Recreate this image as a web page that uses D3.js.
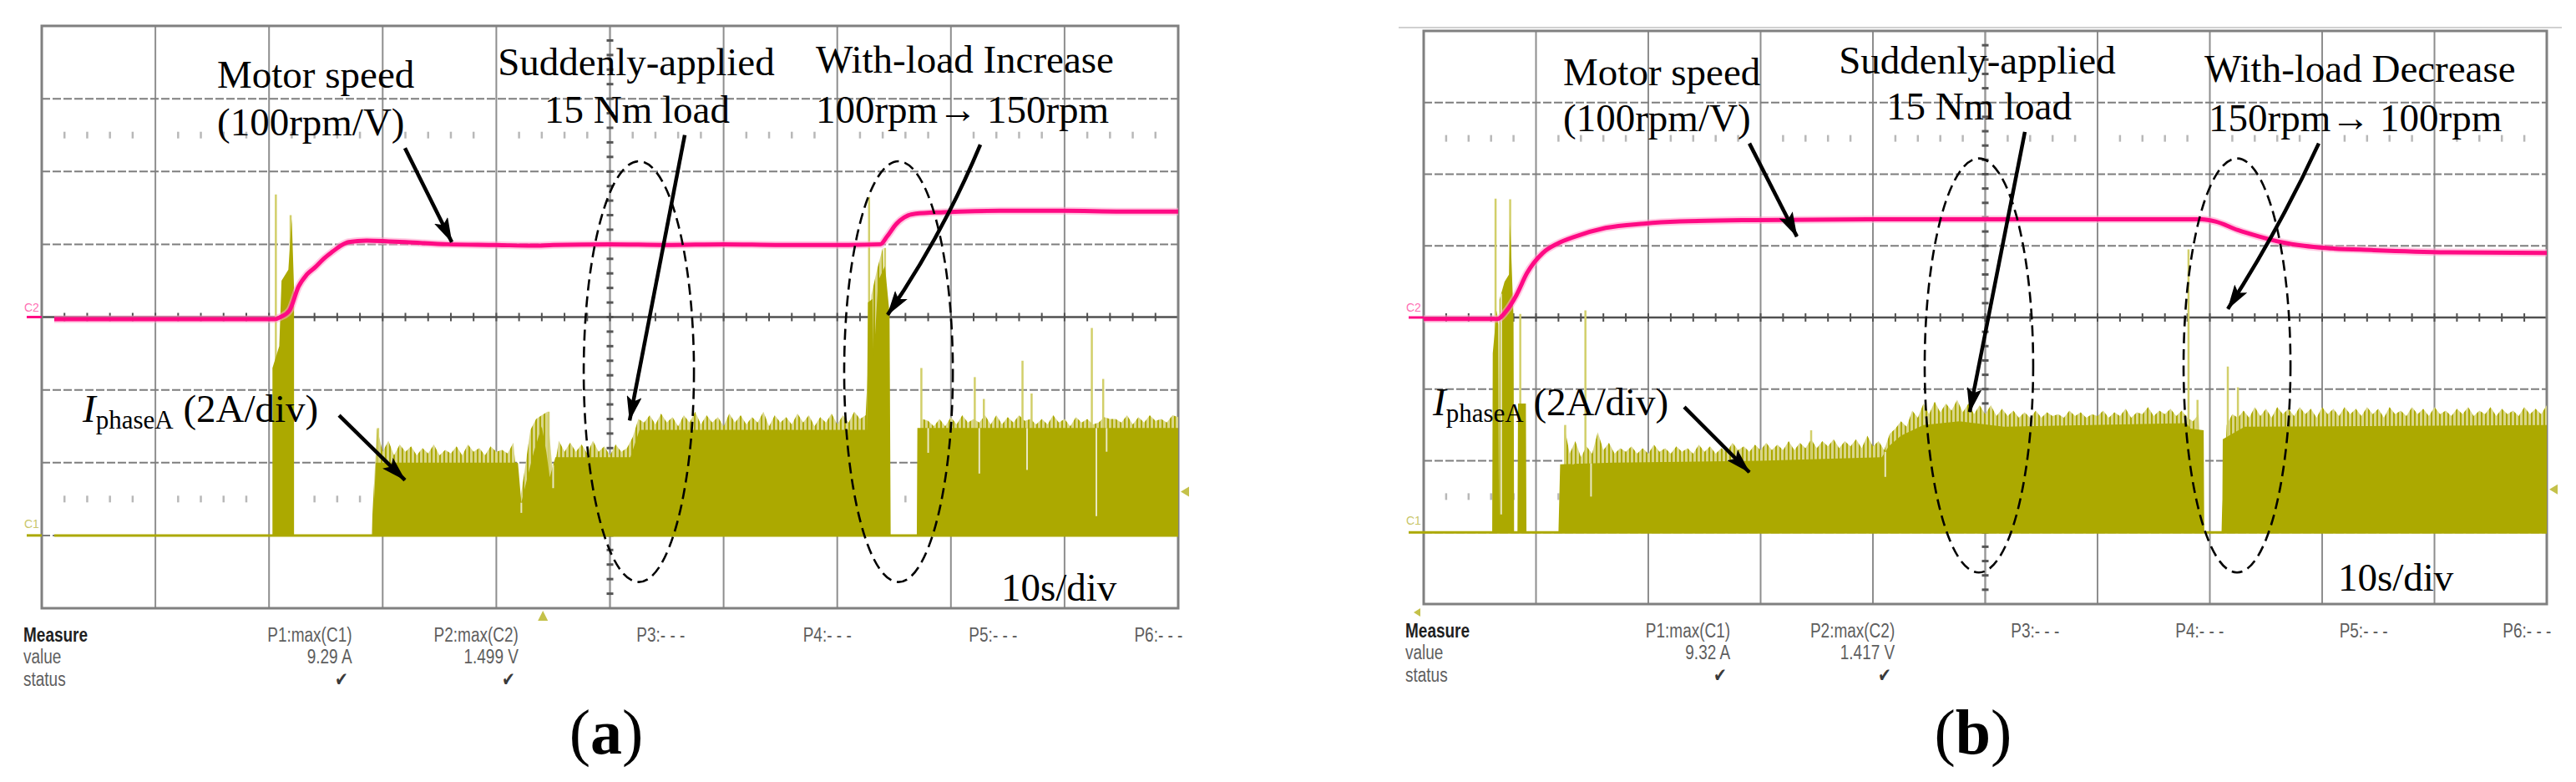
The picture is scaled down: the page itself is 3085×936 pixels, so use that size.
<!DOCTYPE html>
<html lang="en">
<head>
<meta charset="utf-8">
<title>Motor speed and phase current</title>
<style>
  body { margin: 0; background: #fff; }
  svg { display: block; }
  .ann { font-family: "Liberation Serif", "Times New Roman", serif; font-size: 47px; fill: #000; }
  .meas { font-family: "Liberation Sans", Arial, sans-serif; font-size: 19px; fill: #5e5e5e; }
</style>
</head>
<body>
<svg id="chart" width="3085" height="936"></svg>
<script src="https://d3js.org/d3.v7.min.js"></script>
<script>
// scope screen: 10 s/div x 10 div, 8 vertical divisions
const gridTimes = [0, 10, 20, 30, 40, 50, 60, 70, 80, 90, 100];
const gridDivs = [0, 1, 2, 3, 4, 5, 6, 7, 8];

// (a) motor speed (C2, 100 rpm/V, 1 V/div)
const speedTimeA = [1.1, 20.5, 21.0, 21.8, 22.6, 23.3, 24.1, 24.8, 25.6, 26.3, 27.0, 28.6, 30.5, 32.0, 35.7, 40, 43.2, 45, 50, 55, 60, 65, 70, 73.8, 74.4, 75.2, 75.9, 76.9, 79.4, 84.3, 90, 95, 100];
const speedRpmA  = [-3, -3, 0, 9, 42, 58, 69, 80, 90, 98, 103, 105, 104, 103, 100, 99, 98, 99, 100, 99, 100, 99, 99, 100, 111, 128, 137, 142, 144, 146, 146, 145, 145];

// (b) motor speed
const speedTimeB = [0, 6.6, 7.3, 8.25, 9.2, 10.6, 11.9, 13.5, 16.2, 19.6, 22.8, 29.5, 39.5, 50, 60, 69.3, 70.5, 72.5, 74.4, 76.4, 78.4, 80.3, 84.6, 91.2, 100];
const speedRpmB  = [-2, -2, 8, 31, 62, 90, 103, 113, 125, 131, 134, 136, 137, 137, 137, 137, 134, 122, 113, 105, 100, 97, 94, 91, 90];

// (a) phase current envelope (C1, 2 A/div), [time s, A]
const bodyA = [[1.1,0],[20.3,0],[20.3,4.6],[20.9,5.2],[21.1,7.0],[21.7,7.3],[22.0,8.7],[22.2,6.8],[22.2,0],[29.1,0],[29.4,2.0],[41.9,2.0],[42.2,0.9],[42.5,1.3],[43.3,2.3],[44.0,3.0],[44.4,2.3],[44.7,1.6],[45.2,2.15],[51.8,2.15],[52.6,2.9],[72.6,2.9],[72.7,6.4],[73.1,6.5],[73.2,4.8],[73.6,7.0],[74.2,7.4],[74.6,6.1],[74.7,0],[77.0,0],[77.05,2.95],[100,2.95]];
// (a) ripple peaks every 0.5 s from 29 s
const hairStartA = 29.0, hairStepA = 0.5;
const hairAmpA = [
  0, 2.95, 2.3, 2.6, 2.2, 2.5, 2.3, 2.45, 2.2, 2.4,
  2.25, 2.5, 2.2, 2.35, 2.25, 2.45, 2.2, 2.5, 2.3, 2.4,
  2.2, 2.45, 2.3, 2.35, 2.25, 2.55, 0.8, 1.8, 2.9, 3.2,
  3.3, 3.4, 1.6, 2.6, 2.3, 2.55, 2.3, 2.5, 2.25, 2.6,
  2.3, 2.45, 2.2, 2.5, 2.3, 2.4, 2.7, 3.2, 3.1, 3.3,
  3.05, 3.35, 3.1, 3.25, 3.0, 3.3, 3.1, 3.4, 3.05, 3.3,
  3.1, 3.25, 3.0, 3.35, 3.1, 3.3, 3.05, 3.25, 3.1, 3.4,
  3.0, 3.3, 3.1, 3.25, 3.05, 3.35, 3.1, 3.3, 3.0, 3.25,
  3.1, 3.35, 3.05, 3.3, 3.1, 3.4, 3.2, 3.3, 6.6, 7.3,
  7.9, 0, 0, 0, 0, 0, 0, 3.2, 3.15, 3.0,
  3.2, 3.0, 3.25, 3.05, 3.3, 3.1, 3.2, 3.1, 3.3, 3.05,
  3.3, 3.05, 3.25, 3.1, 3.3, 3.15, 3.2, 3.05, 3.2, 3.05,
  3.3, 3.1, 3.2, 3.0, 3.25, 3.1, 3.2, 3.05, 3.1, 3.25,
  3.2, 3.2, 3.1, 3.3, 3.05, 3.25, 3.1, 3.3, 3.15, 3.2,
  3.1, 3.3, 3.25
];
const spikesA = [[20.6,9.37],[21.9,8.8],[29.6,2.95],[44.6,3.4],[72.8,9.3],[74.2,7.9],[77.4,4.6],[82.1,4.35],[82.9,3.75],[86.3,4.8],[87.1,3.9],[92.4,5.7],[93.4,4.3]];
const notchesA = [[42.2,0.62],[45.0,1.3],[78.0,2.27],[82.5,1.7],[86.7,1.8],[92.8,0.53],[93.7,2.3]];

// (b) phase current envelope
const bodyB = [[0,0],[6.1,0],[6.15,5.0],[6.5,6.2],[6.65,5.8],[6.7,0.4],[6.75,6.5],[7.2,7.0],[7.6,7.2],[7.7,8.6],[8.0,6.0],[8.05,0],[8.35,0],[8.4,3.6],[9.1,3.6],[9.15,0],[12.0,0],[12.15,1.9],[16.9,1.95],[30,2.0],[40.8,2.1],[41.4,2.4],[42.5,2.7],[44.5,3.0],[47.7,3.1],[51.7,2.95],[67.9,3.05],[68.3,2.9],[69.45,2.85],[69.5,0],[71.1,0],[71.15,2.6],[73.1,2.95],[100,3.0]];
const hairStartB = 12.5, hairStepB = 0.5;
const hairAmpB = [
  3.0, 2.2, 2.55, 2.1, 2.4, 2.2, 2.8, 2.3, 2.5, 2.2,
  2.35, 2.25, 2.4, 2.2, 2.35, 2.2, 2.45, 2.25, 2.35, 2.2,
  2.4, 2.25, 2.35, 2.2, 2.45, 2.25, 2.4, 2.2, 2.35, 2.25,
  2.5, 2.3, 2.4, 2.25, 2.45, 2.3, 2.5, 2.3, 2.45, 2.3,
  2.55, 2.3, 2.5, 2.35, 2.6, 2.35, 2.55, 2.4, 2.6, 2.35,
  2.55, 2.4, 2.6, 2.35, 2.7, 2.4, 2.55, 2.3, 2.75, 2.9,
  3.1, 2.95, 3.4, 3.2, 3.6, 3.3, 3.65, 3.35, 3.6, 3.4,
  3.7, 3.35, 3.6, 3.3, 3.55, 3.3, 3.55, 3.25, 3.45, 3.25,
  3.4, 3.2, 3.35, 3.2, 3.4, 3.2, 3.35, 3.25, 3.3, 3.2,
  3.4, 3.25, 3.35, 3.2, 3.3, 3.25, 3.4, 3.2, 3.35, 3.25,
  3.45, 3.2, 3.35, 3.3, 3.5, 3.25, 3.4, 3.3, 3.45, 3.25,
  3.4, 3.2, 3.1, 3.3, 0, 0, 0, 0, 3.0, 3.3,
  3.2, 3.4, 3.2, 3.5, 3.25, 3.45, 3.2, 3.5, 3.3, 3.45,
  3.25, 3.5, 3.3, 3.45, 3.2, 3.5, 3.3, 3.45, 3.25, 3.5,
  3.3, 3.45, 3.25, 3.5, 3.3, 3.45, 3.2, 3.5, 3.3, 3.4,
  3.25, 3.5, 3.3, 3.45, 3.25, 3.5, 3.3, 3.4, 3.25, 3.45,
  3.3, 3.5, 3.25, 3.4, 3.3, 3.5, 3.25, 3.45, 3.3, 3.4,
  3.25, 3.5, 3.3, 3.45, 3.3, 3.55
];
const spikesB = [[6.4,9.32],[7.7,9.3],[8.6,6.1],[12.6,3.0],[14.4,6.2],[34.5,2.85],[68.1,7.9],[68.9,3.7],[71.6,4.63],[72.5,4.05]];
const notchesB = [[6.9,0.5],[13.3,1.9],[14.9,1.0],[41.1,1.55]];

// measurement readout under each screen
const measureHeaders = ["P1:max(C1)", "P2:max(C2)", "P3:- - -", "P4:- - -", "P5:- - -", "P6:- - -"];
const measureValuesA = ["9.29 A", "1.499 V", "", "", "", ""];
const measureValuesB = ["9.32 A", "1.417 V", "", "", "", ""];
const measureStatus = ["\u2714", "\u2714", "", "", "", ""];
const measureColT = [27.3, 41.95, 56.6, 71.25, 85.85, 100.4];

const speedColor = "#ff0a84", currentColor = "#aca900", hairColor = "#d9d68a";

const svg = d3.select("#chart");
const defs = svg.append("defs");
defs.append("marker")
  .attr("id", "arrowHead")
  .attr("viewBox", "0 0 30 18")
  .attr("refX", 29).attr("refY", 9)
  .attr("markerWidth", 30).attr("markerHeight", 18)
  .attr("markerUnits", "userSpaceOnUse")
  .attr("orient", "auto")
  .append("path")
  .attr("d", "M0,0 L30,9 L0,18 L6,9 Z")
  .attr("fill", "#000");

// fine vertical hatching so the ripple band reads as a dense trace
const pat = defs.append("pattern").attr("id", "hairPat")
  .attr("patternUnits", "userSpaceOnUse").attr("width", 5).attr("height", 10);
pat.append("rect").attr("width", 5).attr("height", 10).attr("fill", hairColor);
pat.append("rect").attr("x", 1).attr("width", 2).attr("height", 10).attr("fill", currentColor);

function valueAt(pts, t) {
  const i = d3.bisector(d => d[0]).right(pts, t);
  if (i <= 0) return pts[0][1];
  if (i >= pts.length) return pts[pts.length - 1][1];
  const a = pts[i - 1], b = pts[i];
  const f = b[0] === a[0] ? 1 : (t - a[0]) / (b[0] - a[0]);
  return a[1] + f * (b[1] - a[1]);
}

function drawPanel(p, d) {
  const bottom = p.top + p.height, right = p.left + p.width;
  const x = d3.scaleLinear().domain([0, 100]).range([p.left, right]);
  const dv = d3.scaleLinear().domain([0, 8]).range([bottom, p.top]);
  const yI = d3.scaleLinear().domain([-2, 14]).range([bottom, p.top]);     // C1 ground 1 div up
  const yS = d3.scaleLinear().domain([-400, 400]).range([bottom, p.top]);  // C2 ground at centre
  const g = svg.append("g");

  if (p.frameTop) {
    g.append("line").attr("x1", p.left - 30).attr("x2", right + 18)
      .attr("y1", p.top - 4).attr("y2", p.top - 4)
      .attr("stroke", "#d0d0d0").attr("stroke-width", 2);
  }

  // grid
  g.selectAll("line.vg").data(gridTimes.filter(t => t > 0 && t < 100 && t !== 50)).join("line")
    .attr("class", "vg")
    .attr("x1", t => x(t)).attr("x2", t => x(t)).attr("y1", p.top).attr("y2", bottom)
    .attr("stroke", "#8e8e8e").attr("stroke-width", 2);
  g.selectAll("line.hg").data(gridDivs.filter(v => v > 0 && v < 8 && v !== 4)).join("line")
    .attr("class", "hg")
    .attr("x1", p.left).attr("x2", right).attr("y1", v => dv(v)).attr("y2", v => dv(v))
    .attr("stroke", "#7e7e7e").attr("stroke-width", 2).attr("stroke-dasharray", "10,3");

  // faint tick rows at 1.5 and 6.5 div
  [1.5, 6.5].forEach(v => {
    g.selectAll(null).data(d3.range(2, 100, 2).filter(t => t % 10 !== 0)).join("line")
      .attr("x1", t => x(t)).attr("x2", t => x(t))
      .attr("y1", dv(v) - 4).attr("y2", dv(v) + 4)
      .attr("stroke", "#b8b8b8").attr("stroke-width", 2.5);
  });

  // centre cross with minor ticks
  g.append("line").attr("x1", x(50)).attr("x2", x(50)).attr("y1", p.top).attr("y2", bottom)
    .attr("stroke", "#9a9a9a").attr("stroke-width", 2.5);
  g.selectAll(null).data(d3.range(0.2, 8, 0.2)).join("line")
    .attr("x1", x(50) - 4).attr("x2", x(50) + 4)
    .attr("y1", v => dv(v)).attr("y2", v => dv(v))
    .attr("stroke", "#555").attr("stroke-width", 3);
  g.append("line").attr("x1", p.left).attr("x2", right).attr("y1", dv(4)).attr("y2", dv(4))
    .attr("stroke", "#505050").attr("stroke-width", 2.5);
  g.selectAll(null).data(d3.range(2, 100, 2)).join("line")
    .attr("x1", t => x(t)).attr("x2", t => x(t))
    .attr("y1", dv(4) - 5).attr("y2", dv(4) + 5)
    .attr("stroke", "#505050").attr("stroke-width", 2);

  // screen border
  g.append("rect").attr("x", p.left).attr("y", p.top).attr("width", p.width).attr("height", p.height)
    .attr("fill", "none").attr("stroke", "#808080").attr("stroke-width", 3);

  // channel markers
  g.append("line").attr("x1", p.left - 18).attr("x2", p.left).attr("y1", yS(0)).attr("y2", yS(0))
    .attr("stroke", speedColor).attr("stroke-width", 3);
  g.append("text").attr("x", p.left - 21).attr("y", yS(0) - 7).attr("font-family", "Liberation Sans")
    .attr("font-size", 14).attr("fill", "#ff6fb4").text("C2");
  g.append("line").attr("x1", p.left - 18).attr("x2", p.left).attr("y1", yI(0)).attr("y2", yI(0))
    .attr("stroke", currentColor).attr("stroke-width", 3);
  g.append("text").attr("x", p.left - 21).attr("y", yI(0) - 9).attr("font-family", "Liberation Sans")
    .attr("font-size", 14).attr("fill", "#c9c66a").text("C1");

  // phase current
  const hair = d.hairAmp.map((v, i) => [d.hairStart + i * d.hairStep, v]);
  const area = d3.area().x(q => x(q[0])).y0(yI(0)).y1(q => yI(q[1]));
  g.append("path").datum(hair).attr("d", area).attr("fill", "url(#hairPat)");
  g.selectAll(null).data(d.spikes).join("line")
    .attr("x1", q => x(q[0])).attr("x2", q => x(q[0]))
    .attr("y1", yI(0)).attr("y2", q => yI(q[1]))
    .attr("stroke", "#d2cf6a").attr("stroke-width", 2.5);
  g.append("line").attr("x1", x(d.body[0][0])).attr("x2", right).attr("y1", yI(0)).attr("y2", yI(0))
    .attr("stroke", currentColor).attr("stroke-width", 3);
  g.append("path").datum(d.body).attr("d", area).attr("fill", currentColor);
  g.selectAll(null).data(d.notches).join("line")
    .attr("x1", q => x(q[0])).attr("x2", q => x(q[0]))
    .attr("y1", q => yI(valueAt(d.body, q[0]))).attr("y2", q => yI(q[1]))
    .attr("stroke", "#e9e7c2").attr("stroke-width", 2);

  // motor speed
  const speed = d.speedT.map((t, i) => [t, d.speedR[i]]);
  const line = d3.line().x(q => x(q[0])).y(q => yS(q[1])).curve(d3.curveMonotoneX);
  g.append("path").datum(speed).attr("d", line).attr("fill", "none")
    .attr("stroke", "#ff9fcb").attr("stroke-width", 9).attr("stroke-opacity", 0.55);
  g.append("path").datum(speed).attr("d", line).attr("fill", "none")
    .attr("stroke", speedColor).attr("stroke-width", 5);

  // trigger markers
  g.append("path")
    .attr("d", `M${right + 3},${dv(1.6)} L${right + 13},${dv(1.6) - 6} L${right + 13},${dv(1.6) + 6} Z`)
    .attr("fill", "#c4c14a");
  if (p.trigT !== undefined) {
    g.append("path")
      .attr("d", `M${x(p.trigT)},${bottom + 3} L${x(p.trigT) - 6},${bottom + 15} L${x(p.trigT) + 6},${bottom + 15} Z`)
      .attr("fill", "#c4c14a");
  } else {
    g.append("path")
      .attr("d", `M${p.left - 12},${bottom + 10} L${p.left - 4},${bottom + 5} L${p.left - 4},${bottom + 15} Z`)
      .attr("fill", "#c4c14a");
  }

  // dashed ellipses
  g.selectAll(null).data(d.ellipses).join("ellipse")
    .attr("cx", e => x(e.t)).attr("cy", e => dv(e.dv))
    .attr("rx", e => x(e.t + e.rt) - x(e.t)).attr("ry", e => dv(e.dv - e.rdv) - dv(e.dv))
    .attr("fill", "none").attr("stroke", "#000").attr("stroke-width", 2.6)
    .attr("stroke-dasharray", "13,7");

  // arrows
  g.selectAll(null).data(d.arrows).join("path")
    .attr("d", a => {
      const x0 = x(a.from[0]), y0 = dv(a.from[1]), x1 = x(a.to[0]), y1 = dv(a.to[1]);
      const dx = x1 - x0, dy = y1 - y0, len = Math.hypot(dx, dy), b = a.bend || 0;
      const cx = (x0 + x1) / 2 + (dy / len) * 2 * b, cy = (y0 + y1) / 2 - (dx / len) * 2 * b;
      return `M${x0},${y0} Q${cx},${cy} ${x1},${y1}`;
    })
    .attr("fill", "none").attr("stroke", "#000").attr("stroke-width", 4.5)
    .attr("marker-end", "url(#arrowHead)");

  // labels
  g.selectAll(null).data(d.labels).join("text")
    .attr("class", "ann")
    .attr("x", l => x(l.t)).attr("y", l => dv(l.dv))
    .attr("text-anchor", l => l.anchor || "start")
    .text(l => l.text);
  const il = g.append("text").attr("class", "ann").attr("x", x(d.iLabel[0])).attr("y", dv(d.iLabel[1]));
  il.append("tspan").attr("font-style", "italic").text("I");
  il.append("tspan").attr("font-size", 31).attr("dy", 8).text("phaseA");
  il.append("tspan").attr("dy", -8).text(" (2A/div)");

  // measure readout
  const rows = [40, 66, 93];
  const mtext = (tx, ty, str, anchor, style) => {
    const t = g.append("text").attr("class", "meas")
      .attr("transform", `translate(${tx},${ty}) scale(1,1.22)`)
      .attr("text-anchor", anchor).text(str);
    if (style) t.style("fill", style.fill).style("font-weight", style.weight);
    return t;
  };
  mtext(p.left - 22, bottom + rows[0], "Measure", "start", { fill: "#1f1f1f", weight: "bold" });
  mtext(p.left - 22, bottom + rows[1], "value", "start");
  mtext(p.left - 22, bottom + rows[2], "status", "start");
  measureHeaders.forEach((h, i) => {
    mtext(x(measureColT[i]), bottom + rows[0], h, "end");
    if (d.values[i]) mtext(x(measureColT[i]), bottom + rows[1], d.values[i], "end");
    if (measureStatus[i]) mtext(x(measureColT[i]) - 4, bottom + rows[2], measureStatus[i], "end", { fill: "#3a3a3a", weight: "normal" });
  });

  // panel caption
  const cap = g.append("text").attr("class", "ann").style("font-size", "76px")
    .attr("x", x(d.caption[0])).attr("y", 902).attr("text-anchor", "middle");
  cap.append("tspan").text("(");
  cap.append("tspan").attr("font-weight", "bold").text(d.caption[1]);
  cap.append("tspan").text(")");
}

drawPanel({ left: 50, top: 31, width: 1361, height: 697, trigT: 44.1 }, {
  speedT: speedTimeA, speedR: speedRpmA,
  body: bodyA, hairStart: hairStartA, hairStep: hairStepA, hairAmp: hairAmpA,
  spikes: spikesA, notches: notchesA, values: measureValuesA,
  ellipses: [{ t: 52.54, dv: 3.25, rt: 4.85, rdv: 2.89 }, { t: 75.39, dv: 3.25, rt: 4.78, rdv: 2.89 }],
  arrows: [
    { from: [31.96, 6.32], to: [36.08, 5.03] },
    { from: [56.58, 6.50], to: [51.73, 2.58] },
    { from: [82.59, 6.37], to: [74.43, 4.03], bend: 6 },
    { from: [26.16, 2.65], to: [31.96, 1.76] }
  ],
  labels: [
    { text: "Motor speed", t: 15.43, dv: 7.15 },
    { text: "(100rpm/V)", t: 15.43, dv: 6.50 },
    { text: "Suddenly-applied", t: 52.31, dv: 7.32, anchor: "middle" },
    { text: "15 Nm load", t: 52.39, dv: 6.67, anchor: "middle" },
    { text: "With-load Increase", t: 68.11, dv: 7.36 },
    { text: "100rpm\u2192 150rpm", t: 68.11, dv: 6.67 },
    { text: "10s/div", t: 84.42, dv: 0.10 }
  ],
  iLabel: [3.6, 2.56],
  caption: [49.67, "a"]
});

drawPanel({ left: 1705, top: 37, width: 1345, height: 686, frameTop: true }, {
  speedT: speedTimeB, speedR: speedRpmB,
  body: bodyB, hairStart: hairStartB, hairStep: hairStepB, hairAmp: hairAmpB,
  spikes: spikesB, notches: notchesB, values: measureValuesB,
  ellipses: [{ t: 49.44, dv: 3.33, rt: 4.83, rdv: 2.89 }, { t: 72.42, dv: 3.33, rt: 4.76, rdv: 2.89 }],
  arrows: [
    { from: [29.0, 6.43], to: [33.23, 5.13] },
    { from: [53.53, 6.59], to: [48.62, 2.68] },
    { from: [79.70, 6.43], to: [71.60, 4.12], bend: 4 },
    { from: [23.2, 2.75], to: [29.0, 1.84] }
  ],
  labels: [
    { text: "Motor speed", t: 12.42, dv: 7.24 },
    { text: "(100rpm/V)", t: 12.42, dv: 6.60 },
    { text: "Suddenly-applied", t: 49.29, dv: 7.41, anchor: "middle" },
    { text: "15 Nm load", t: 49.44, dv: 6.76, anchor: "middle" },
    { text: "With-load Decrease", t: 69.52, dv: 7.29 },
    { text: "150rpm\u2192 100rpm", t: 69.89, dv: 6.60 },
    { text: "10s/div", t: 81.41, dv: 0.19 }
  ],
  iLabel: [0.82, 2.64],
  caption: [48.92, "b"]
});
</script>
</body>
</html>
